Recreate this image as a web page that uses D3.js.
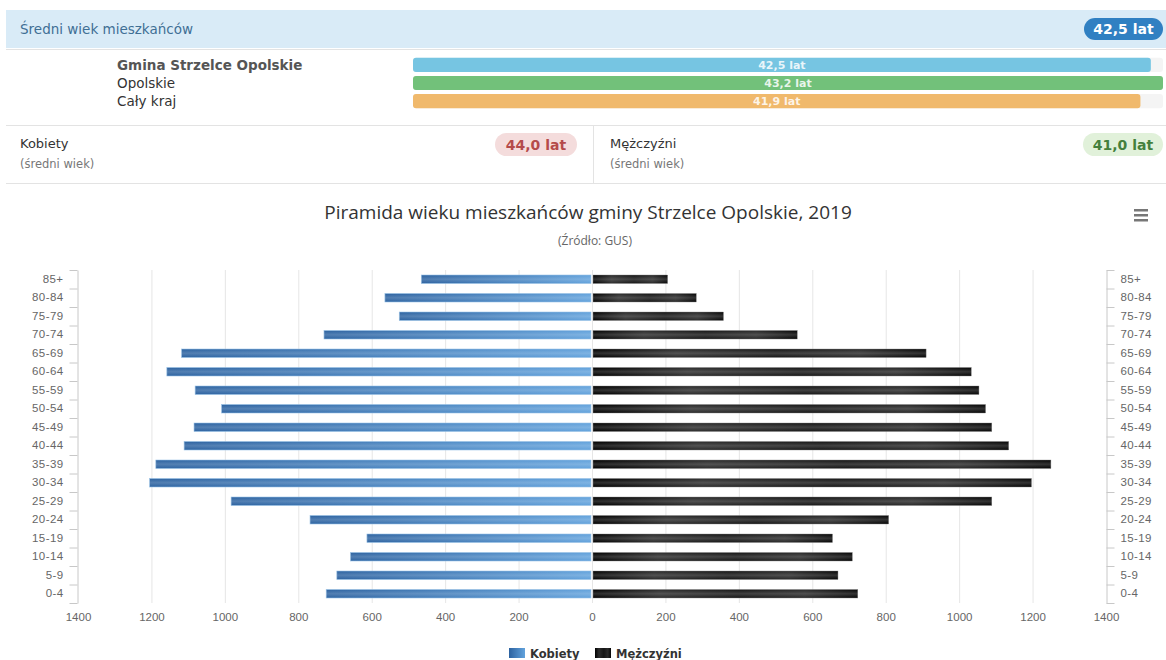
<!DOCTYPE html>
<html lang="pl">
<head>
<meta charset="UTF-8">
<title>Piramida wieku – Strzelce Opolskie</title>
<script src="https://d3js.org/d3.v7.min.js"></script>
<style>
  body { margin: 0; background: #fff; }
  svg { display: block; font-family: "DejaVu Sans", Verdana, sans-serif; }
</style>
</head>
<body>
<div id="chart"></div>
<script>
// --- dane ---
const regions = ["Gmina Strzelce Opolskie", "Opolskie", "Cały kraj"];
const regionAges = [42.5, 43.2, 41.9];
const regionColors = ["#76c5e2", "#72c17a", "#f0b96c"];

const avgAll = "42,5 lat";
const avgWomen = "44,0 lat";
const avgMen = "41,0 lat";

const ageGroups = ["85+", "80-84", "75-79", "70-74", "65-69", "60-64", "55-59", "50-54", "45-49",
                   "40-44", "35-39", "30-34", "25-29", "20-24", "15-19", "10-14", "5-9", "0-4"];
const women = [465, 564, 525, 730, 1118, 1158, 1081, 1009, 1084, 1111, 1188, 1205, 983, 768, 613, 658, 695, 724];
const men = [206, 284, 358, 559, 910, 1033, 1054, 1072, 1089, 1135, 1250, 1197, 1089, 808, 655, 709, 670, 724];
const xTicks = d3.range(-1400, 1401, 200);

const width = 1166, height = 660;
const svg = d3.select("#chart").append("svg")
  .attr("width", width).attr("height", height);

const defs = svg.append("defs");
const gW = defs.append("linearGradient").attr("id", "gWomen");
gW.append("stop").attr("offset", "0%").attr("stop-color", "#2c62a0");
gW.append("stop").attr("offset", "100%").attr("stop-color", "#62a2dc");
const gM = defs.append("linearGradient").attr("id", "gMen");
[["0%", "#000"], ["25%", "#2c2c2c"], ["55%", "#161616"], ["80%", "#2a2a2a"], ["100%", "#050505"]]
  .forEach(s => gM.append("stop").attr("offset", s[0]).attr("stop-color", s[1]));
const gShine = defs.append("linearGradient").attr("id", "gShine")
  .attr("x1", 0).attr("y1", 0).attr("x2", 0).attr("y2", 1);
gShine.append("stop").attr("offset", "0%").attr("stop-color", "#fff").attr("stop-opacity", 0);
gShine.append("stop").attr("offset", "50%").attr("stop-color", "#fff").attr("stop-opacity", 0.18);
gShine.append("stop").attr("offset", "100%").attr("stop-color", "#fff").attr("stop-opacity", 0);

// --- panel średniego wieku ---
svg.append("rect").attr("x", 6).attr("y", 10).attr("width", 1160).attr("height", 38).attr("fill", "#d9ebf7");
svg.append("text").attr("x", 20).attr("y", 34).attr("font-size", 13.5).attr("fill", "#3f6f95")
  .text("Średni wiek mieszkańców");

function badge(x, y, w, h, bg, fg, txt) {
  svg.append("rect").attr("x", x).attr("y", y).attr("width", w).attr("height", h)
    .attr("rx", h / 2).attr("fill", bg);
  svg.append("text").attr("x", x + w / 2).attr("y", y + h / 2 + 5).attr("text-anchor", "middle")
    .attr("font-size", 14).attr("font-weight", "bold").attr("fill", fg).text(txt);
}
badge(1084, 18, 79, 22, "#3080c2", "#fff", avgAll);

svg.append("line").attr("x1", 6).attr("x2", 1166).attr("y1", 49.5).attr("y2", 49.5).attr("stroke", "#e3e3e3");

const yReg = d3.scaleBand().domain(regions).range([56, 110]).paddingInner(0.22).paddingOuter(0.1);
const xReg = d3.scaleLinear().domain([0, d3.max(regionAges)]).range([413, 1163]);

svg.selectAll(".reglabel").data(regions).join("text")
  .attr("x", 117).attr("y", d => yReg(d) + yReg.bandwidth() / 2 + 5)
  .attr("font-size", 13.5)
  .attr("font-weight", (d, i) => i === 0 ? "bold" : "normal")
  .attr("fill", (d, i) => i === 0 ? "#555" : "#333")
  .text(d => d);

svg.selectAll(".regtrack").data(regions).join("rect")
  .attr("x", xReg(0)).attr("y", d => yReg(d)).attr("width", xReg.range()[1] - xReg(0))
  .attr("height", yReg.bandwidth()).attr("rx", 3).attr("fill", "#f4f4f4");
svg.selectAll(".regbar").data(regionAges).join("rect")
  .attr("x", xReg(0)).attr("y", (d, i) => yReg(regions[i]))
  .attr("width", d => xReg(d) - xReg(0)).attr("height", yReg.bandwidth())
  .attr("rx", 3).attr("fill", (d, i) => regionColors[i]);
svg.selectAll(".regval").data(regionAges).join("text")
  .attr("x", d => (xReg(0) + xReg(d)) / 2).attr("y", (d, i) => yReg(regions[i]) + yReg.bandwidth() / 2 + 4)
  .attr("text-anchor", "middle").attr("font-size", 11).attr("font-weight", "bold")
  .attr("fill", "#fff").attr("fill-opacity", 0.85)
  .text(d => d.toFixed(1).replace(".", ",") + " lat");

svg.append("line").attr("x1", 6).attr("x2", 1166).attr("y1", 125.5).attr("y2", 125.5).attr("stroke", "#e3e3e3");
svg.append("line").attr("x1", 593.5).attr("x2", 593.5).attr("y1", 125).attr("y2", 183).attr("stroke", "#e3e3e3");
svg.append("line").attr("x1", 6).attr("x2", 1166).attr("y1", 183.5).attr("y2", 183.5).attr("stroke", "#e3e3e3");

[[20, "Kobiety"], [610, "Mężczyźni"]].forEach(([x, t]) => {
  svg.append("text").attr("x", x).attr("y", 148).attr("font-size", 13).attr("fill", "#333").text(t);
  svg.append("text").attr("x", x).attr("y", 168).attr("font-size", 11.5).attr("fill", "#777").text("(średni wiek)");
});
badge(495, 133, 82, 23, "#f4dcdc", "#b54a4a", avgWomen);
badge(1083, 133, 80, 23, "#e1f1da", "#44803c", avgMen);

// --- piramida ---
svg.append("text").attr("x", 588).attr("y", 219).attr("text-anchor", "middle")
  .attr("font-family", "'Open Sans', sans-serif").attr("font-size", 19).attr("fill", "#333")
  .text("Piramida wieku mieszkańców gminy Strzelce Opolskie, 2019");
svg.append("text").attr("x", 595).attr("y", 245).attr("text-anchor", "middle")
  .attr("font-family", "'Open Sans', sans-serif").attr("font-size", 12).attr("fill", "#666")
  .text("(Źródło: GUS)");
[209, 214, 219].forEach(y => svg.append("rect").attr("x", 1134).attr("y", y).attr("width", 14)
  .attr("height", 2.5).attr("fill", "#777"));

const x = d3.scaleLinear().domain([-1400, 1400]).range([78, 1106]);
const y = d3.scaleBand().domain(ageGroups).range([270, 603]);
const plotTop = y.range()[0], plotBottom = y.range()[1];

svg.append("g").selectAll("line").data(xTicks.filter(t => Math.abs(t) < 1400)).join("line")
  .attr("x1", d => x(d) + 0.5).attr("x2", d => x(d) + 0.5)
  .attr("y1", plotTop).attr("y2", plotBottom).attr("stroke", "#e6e6e6");

const barH = 8.5;
const wBars = svg.append("g");
women.forEach((v, i) => {
  const yy = y(ageGroups[i]) + y.bandwidth() / 2 - barH / 2;
  wBars.append("rect").attr("x", x(-v)).attr("y", yy).attr("width", x(0) - x(-v) - 1).attr("height", barH)
    .attr("fill", "url(#gWomen)").attr("stroke", "#9cc3e6").attr("stroke-width", 0.6);
  wBars.append("rect").attr("x", x(-v)).attr("y", yy).attr("width", x(0) - x(-v) - 1).attr("height", barH)
    .attr("fill", "url(#gShine)");
});
const mBars = svg.append("g");
men.forEach((v, i) => {
  const yy = y(ageGroups[i]) + y.bandwidth() / 2 - barH / 2;
  mBars.append("rect").attr("x", x(0) + 1).attr("y", yy).attr("width", x(v) - x(0) - 1).attr("height", barH)
    .attr("fill", "url(#gMen)").attr("stroke", "#888").attr("stroke-width", 0.4);
  mBars.append("rect").attr("x", x(0) + 1).attr("y", yy).attr("width", x(v) - x(0) - 1).attr("height", barH)
    .attr("fill", "url(#gShine)");
});

// osie kategorii (lewa i prawa)
const axisL = d3.axisLeft(y).tickSize(0).tickPadding(14);
const gl = svg.append("g").attr("transform", `translate(${x(-1400) - 0.5},0)`).call(axisL);
const axisR = d3.axisRight(y).tickSize(0).tickPadding(14);
const gr = svg.append("g").attr("transform", `translate(${x(1400) + 0.5},0)`).call(axisR);
[gl, gr].forEach(g => {
  g.select(".domain").attr("stroke", "#c8c8c8");
  g.selectAll("text").attr("font-size", 11.5).attr("fill", "#666").attr("letter-spacing", 0.4);
});
const bounds = ageGroups.map(a => y(a)).concat([plotBottom]);
gl.selectAll(".bt").data(bounds).join("line").attr("x1", 0).attr("x2", -8)
  .attr("y1", d => d + 0.5).attr("y2", d => d + 0.5).attr("stroke", "#c8c8c8");
gr.selectAll(".bt").data(bounds).join("line").attr("x1", 0).attr("x2", 8)
  .attr("y1", d => d + 0.5).attr("y2", d => d + 0.5).attr("stroke", "#c8c8c8");

// oś wartości
const axisX = d3.axisBottom(x).tickValues(xTicks).tickSize(0).tickPadding(10).tickFormat(d => Math.abs(d));
const gx = svg.append("g").attr("transform", `translate(0,${plotBottom})`).call(axisX);
gx.select(".domain").remove();
gx.selectAll("text").attr("font-size", 11.5).attr("fill", "#666");

// legenda
const legend = [["Kobiety", "url(#gWomen)", 509], ["Mężczyźni", "url(#gMen)", 595]];
legend.forEach(([t, f, lx]) => {
  svg.append("rect").attr("x", lx).attr("y", 648).attr("width", 16).attr("height", 10).attr("fill", f);
  svg.append("text").attr("x", lx + 21).attr("y", 658).attr("font-size", 11.5).attr("font-weight", "bold")
    .attr("fill", "#333").text(t);
});
</script>
</body>
</html>
